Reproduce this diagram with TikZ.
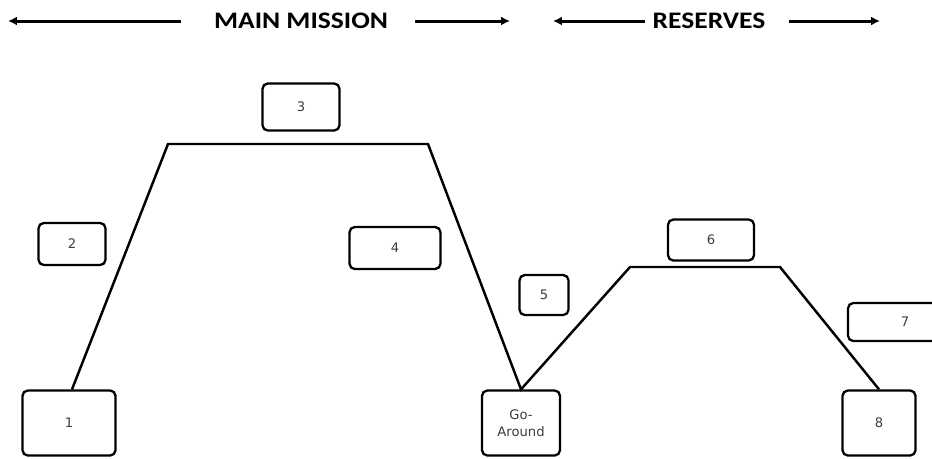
\documentclass[tikz,border=0pt]{standalone}
\usepackage{fontspec}
\setmainfont{Carlito}
\newfontfamily\numfont{DejaVu Sans}
\usetikzlibrary{positioning, arrows.meta}
\definecolor{testo}{RGB}{60,60,70}

\begin{document}
\begin{tikzpicture}[x=0.02cm,y=-0.02cm,
    casella/.style={draw,line width=1.3pt,rounded corners=3pt,inner sep=0pt,
      align=center,text=testo,font=\numfont\fontsize{7.5}{10}\selectfont},
    profilo/.style={line width=1.4pt},
    freccia/.style={line width=1.7pt,-{Latex[length=5pt,width=5pt]}},
    titolo/.style={inner sep=0pt,font=\bfseries\fontsize{13.5}{16}\selectfont}]
    \useasboundingbox (0,0) rectangle (932,458);
    % Intestazione
    \node[titolo] (mm) at (301,21) {\scalebox{1.16}[1]{MAIN MISSION}};
    \node[titolo] (ris) at (709,21) {\scalebox{1.16}[1]{RESERVES}};
    \coordinate (mmA) at (8,21);
    \coordinate (mmB) at (510,21);
    \coordinate (risA) at (553,21);
    \coordinate (risB) at (880,21);
    \draw[freccia] ([xshift=-0.66cm]mm.west) -- (mmA);
    \draw[freccia] ([xshift=0.54cm]mm.east) -- (mmB);
    \draw[freccia] ([xshift=-0.14cm]ris.west) -- (risA);
    \draw[freccia] ([xshift=0.46cm]ris.east) -- (risB);
    % Caselle
    \node[casella,minimum width=1.86cm,minimum height=1.30cm] (b1) at (69,423) {1};
    \node[casella,minimum width=1.34cm,minimum height=0.84cm] (b2) at (72,244) {2};
    \node[casella,minimum width=1.54cm,minimum height=0.94cm] (b3) at (301,107) {3};
    \node[casella,minimum width=1.82cm,minimum height=0.84cm] (b4) at (395,248) {4};
    \node[casella,minimum width=0.98cm,minimum height=0.80cm] (b5) at (544,295) {5};
    \node[casella,minimum width=1.72cm,minimum height=0.82cm] (b6) at (711,240) {6};
    \node[casella,minimum width=2.28cm,minimum height=0.76cm] (b7) at (905,322) {7};
    \node[casella,minimum width=1.56cm,minimum height=1.30cm] (ga) at (521,423) {Go-\\Around};
    \node[casella,minimum width=1.46cm,minimum height=1.30cm] (b8) at (879,423) {8};
    % Profilo di volo
    \coordinate (p1) at (168,144);
    \coordinate (p2) at (428,144);
    \coordinate (p3) at (630,267);
    \coordinate (p4) at (780,267);
    \draw[profilo] ([xshift=0.06cm]b1.north) -- (p1) -- (p2) -- (ga.north)
      -- (p3) -- (p4) -- (b8.north);
\end{tikzpicture}
\end{document}
